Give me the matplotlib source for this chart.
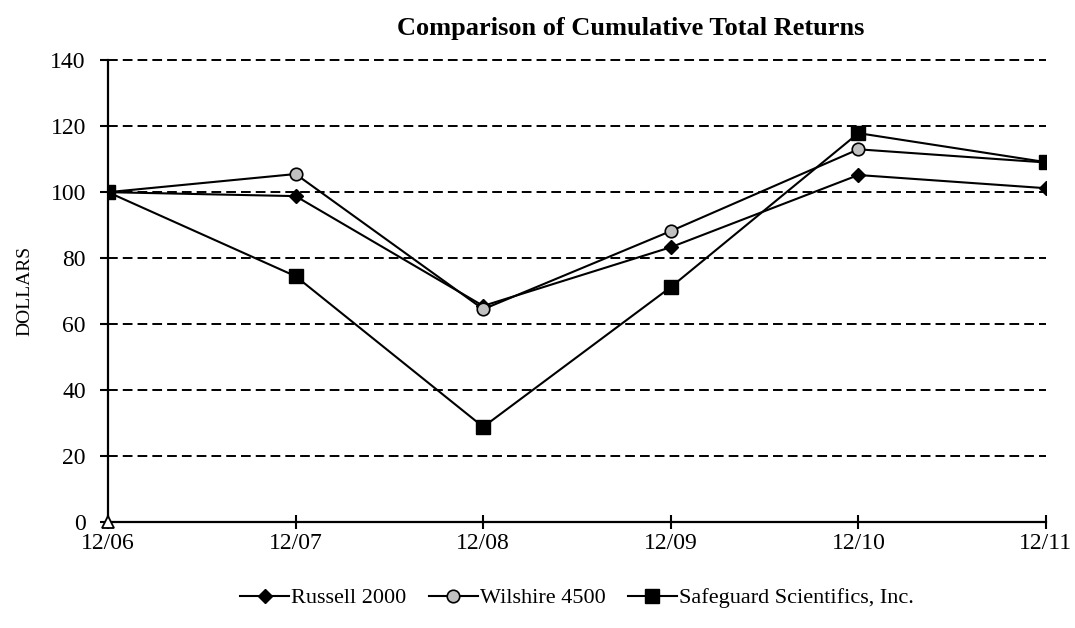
import numpy as np
import matplotlib.pyplot as plt

plt.rcParams['font.family'] = ['Liberation Serif', 'DejaVu Serif']

periods = ['12/06', '12/07', '12/08', '12/09', '12/10', '12/11']
russell = [100, 98.8, 65.5, 83.3, 105.2, 101.2]
wilshire = [100, 105.5, 64.5, 88.2, 113.0, 109.0]
safeguard = [100, 74.5, 28.8, 71.2, 117.9, 109.1]

x = np.arange(len(periods))

fig = plt.figure(figsize=(10.75, 6.28), dpi=100)
ax = fig.add_axes([0.1005, 0.169, 0.8725, 0.735])

for yv in range(20, 141, 20):
    ax.axhline(yv, color='black', linestyle=(0, (5.0, 2.6)), linewidth=1.4, zorder=1, clip_on=False)

ax.plot(x, russell, color='black', linewidth=1.5, marker='D', markersize=7,
        markerfacecolor='black', markeredgecolor='black', label='Russell 2000', zorder=3)
ax.plot(x, wilshire, color='black', linewidth=1.5, marker='o', markersize=9,
        markerfacecolor='#c0c0c0', markeredgecolor='black', markeredgewidth=1.2,
        label='Wilshire 4500', zorder=3)
ax.plot(x, safeguard, color='black', linewidth=1.5, marker='s', markersize=10,
        markerfacecolor='black', markeredgecolor='black', label='Safeguard Scientifics, Inc.', zorder=4)
# stray empty marker at origin
ax.plot([0], [0], marker='^', markersize=9, markerfacecolor='white',
        markeredgecolor='black', markeredgewidth=1.3, linestyle='none', zorder=5, clip_on=False)

ax.set_xlim(0, len(periods) - 1)
ax.set_ylim(0, 140)
ax.set_xticks(x)
ax.set_xticklabels(periods, fontsize=17)
ax.set_yticks(range(0, 141, 20))
ax.tick_params(axis='y', labelsize=17, direction='out', length=6, width=1.5, pad=10)
ax.tick_params(axis='x', direction='inout', length=10, width=1.5, pad=3)
ax.spines['top'].set_visible(False)
ax.spines['right'].set_visible(False)
ax.spines['left'].set_linewidth(1.6)
ax.spines['bottom'].set_linewidth(1.6)

ax.set_ylabel('DOLLARS', fontsize=14)
ax.yaxis.set_label_coords(-0.08, 0.5)
fig.text(0.587, 0.955, 'Comparison of Cumulative Total Returns', ha='center', va='center',
         fontsize=19, fontweight='bold')

ax.legend(loc='center', bbox_to_anchor=(0.5, -0.165), ncol=3, frameon=False, fontsize=16,
          handlelength=2.2, handletextpad=0.1, columnspacing=1.0)

fig.savefig('out.png', dpi=100)
